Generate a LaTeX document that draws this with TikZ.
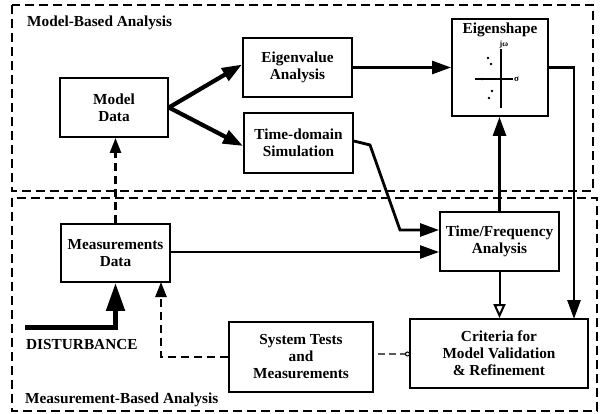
\documentclass[tikz,border=0pt]{standalone}
\usepackage{fontspec}
\setmainfont{Liberation Serif}
\usetikzlibrary{arrows.meta}
\begin{document}
\begin{tikzpicture}[x=1pt,y=-1pt,
  box/.style={draw,line width=1.9pt,inner sep=0pt,align=center,font=\bfseries\fontsize{15.3}{17}\selectfont},
  region/.style={draw,line width=1.4pt,dash pattern=on 9pt off 5pt},
  thickarr/.style={line width=2.8pt,-{Triangle[length=19pt,width=13pt]}},
  heavyarr/.style={line width=4.2pt,-{Triangle[length=20pt,width=14pt]}},
  dasharr/.style={line width=2.6pt,dash pattern=on 8pt off 5pt,-{Triangle[length=15pt,width=11pt]}},
  lbl/.style={font=\bfseries\fontsize{15.3}{17}\selectfont,inner sep=0pt}]
\useasboundingbox (0,0) rectangle (600,414);
% regions
\draw[region] (12,5) rectangle (593,191);
\draw[region] (12,198) rectangle (597,411);
\node[lbl,anchor=base west] (mba) at (27,27) {Model-Based Analysis};
\node[lbl,anchor=base west] (meas) at (25,403) {Measurement-Based Analysis};
\node[lbl,anchor=base west] (distl) at (26,349) {DISTURBANCE};
% boxes
\node[box,minimum width=108pt,minimum height=59pt] (md) at (114,107.5) {Model\\Data};
\node[box,minimum width=109pt,minimum height=59pt] (ev) at (297.5,67.5) {Eigenvalue\\Analysis};
\node[box,minimum width=109pt,minimum height=60pt] (td) at (298.5,143) {Time-domain\\Simulation};
\node[box,minimum width=96pt,minimum height=97pt] (es) at (500,67.5) {};
\node[lbl,anchor=base] (est) at (500,34) {Eigenshape};
\node[box,minimum width=119pt,minimum height=59pt] (tf) at (499.5,241.5) {Time/Frequency\\Analysis};
\node[box,minimum width=109pt,minimum height=58pt] (ms) at (115.5,253) {Measurements\\Data};
\node[box,minimum width=144pt,minimum height=70pt] (st) at (301,357) {System Tests\\and\\Measurements};
\node[box,minimum width=178pt,minimum height=69pt] (cr) at (499,353.5) {Criteria for\\Model Validation\\\& Refinement};
% eigenshape plot
\draw[line width=1.2pt] (501,49) -- (501,108);
\draw[line width=1.2pt] (475,79) -- (513,79);
\node[inner sep=0pt,font=\bfseries\fontsize{8}{8}\selectfont] (jw) at (504,44.5) {jω};
\node[inner sep=0pt,font=\bfseries\fontsize{9}{9}\selectfont,anchor=west] (sg) at (514,79) {σ};
\foreach \p in {(488,58),(491,64),(492,91),(489,98),(501,79),(482,79)} \fill \p circle (1.3pt);
% connectors
\draw[heavyarr] (md.east) -- ([yshift=3pt]ev.west);
\draw[heavyarr] (md.east) -- ([yshift=-3pt]td.west);
\draw[thickarr] (ev.east) -- (ev.east -| es.west);
\coordinate (crin) at (574,319);
\draw[thickarr] (es.east) -| (crin);
\draw[thickarr] (tf.north) -- (tf.north |- es.south);
\coordinate (k1) at (370,145);
\coordinate (k2) at (400,230);
\draw[thickarr,line join=miter] ([yshift=2pt]td.east) -- (k1) -- (k2) -- (k2 -| tf.west);
\draw[line width=2.4pt,-{Triangle[length=19pt,width=13pt]}] (ms.east |- 0,252) -- (tf.west |- 0,252);
\draw[dasharr] (ms.north) -- (ms.north |- md.south);
\coordinate (dist) at (25,327);
\draw[line width=5pt,-{Triangle[length=28pt,width=18pt]}] (dist) -| (ms.south);
\coordinate (msin) at (161,282);
\draw[dasharr,line width=2.4pt] (st.west) -| (msin);
\draw[line width=2pt,-{Triangle[open,length=14pt,width=12pt]}] (tf.south) -- (tf.south |- cr.north);
\coordinate (cc) at (407.5,354);
\draw[line width=2.2pt,gray!70!black,dash pattern=on 7pt off 4pt] ([xshift=4pt]st.east |- cc) -- ([xshift=-2pt]cc);
\draw[line width=1pt,fill=white] (cc) circle (2pt);
\end{tikzpicture}
\end{document}
